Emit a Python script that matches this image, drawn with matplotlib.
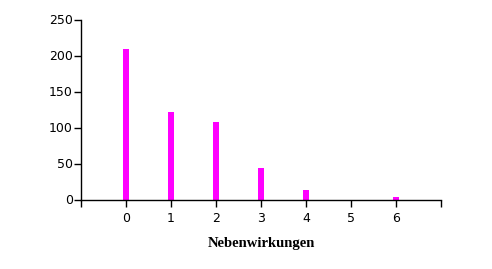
import numpy as np
import matplotlib.pyplot as plt

# number of side effects vs. count
categories = [0, 1, 2, 3, 4, 5, 6]
counts = [209, 121, 107, 44, 13, 0, 3]
y_ticks = [0, 50, 100, 150, 200, 250]

fig = plt.figure(figsize=(4.92, 2.69), dpi=100)
ax = fig.add_axes([81/492, 69.5/269, 360/492, 180/269])

ax.bar(categories, counts, width=0.12, color='#ff00ff')

ax.set_xlim(-1, 7)
ax.set_ylim(0, 250)
ax.set_xticks(range(-1, 8))
ax.set_xticklabels([''] + [str(c) for c in categories] + [''])
ax.set_yticks(y_ticks)

for s in ['top', 'right']:
    ax.spines[s].set_visible(False)
for s in ['left', 'bottom']:
    ax.spines[s].set_linewidth(1.0)
ax.tick_params(axis='both', direction='out', length=5, width=1.0,
               labelsize=9, colors='black')
ax.tick_params(axis='x', pad=4)
ax.tick_params(axis='y', pad=1)
for lab in ax.get_xticklabels() + ax.get_yticklabels():
    lab.set_family('DejaVu Sans')

ax.set_xlabel('Nebenwirkungen', family='Liberation Serif', fontweight='bold',
              fontsize=10.5, labelpad=9)

fig.savefig('out.png', dpi=100)
